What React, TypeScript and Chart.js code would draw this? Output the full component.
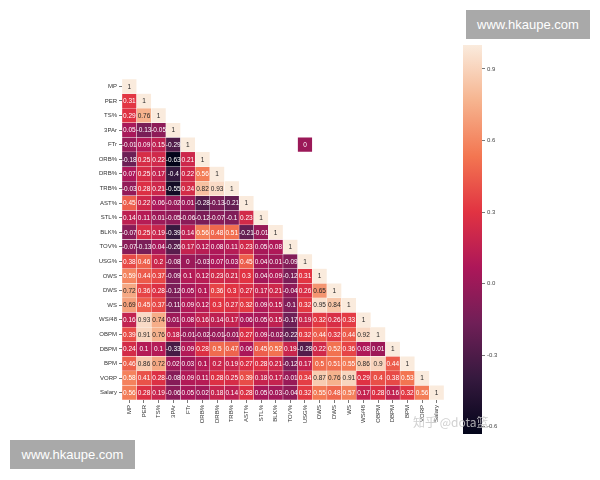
import React, { useEffect, useRef } from "react";
import { Chart, registerables } from "chart.js";
Chart.register(...registerables);

const variables = ["MP","PER","TS%","3PAr","FTr","ORB%","DRB%","TRB%","AST%","STL%","BLK%","TOV%","USG%","OWS","DWS","WS","WS/48","OBPM","DBPM","BPM","VORP","Salary"];

const corrMP = [1];
const corrPER = [0.31, 1];
const corrTS = [0.29, 0.76, 1];
const corr3PAr = [0.05, -0.13, -0.05, 1];
const corrFTr = [-0.01, 0.09, 0.15, -0.29, 1];
const corrORB = [-0.18, 0.25, 0.22, -0.63, 0.21, 1];
const corrDRB = [0.07, 0.25, 0.17, -0.4, 0.22, 0.56, 1];
const corrTRB = [-0.03, 0.28, 0.21, -0.55, 0.24, 0.82, 0.93, 1];
const corrAST = [0.45, 0.22, 0.06, -0.02, 0.01, -0.28, -0.13, -0.21, 1];
const corrSTL = [0.14, 0.11, 0.01, -0.05, -0.06, -0.12, -0.07, -0.1, 0.23, 1];
const corrBLK = [-0.07, 0.25, 0.19, -0.39, 0.14, 0.56, 0.48, 0.51, -0.21, -0.01, 1];
const corrTOV = [-0.07, -0.13, 0.04, -0.26, 0.17, 0.12, 0.08, 0.11, 0.23, 0.05, 0.08, 1];
const corrUSG = [0.38, 0.46, 0.2, -0.08, 0, -0.03, 0.07, 0.03, 0.45, 0.04, 0.01, -0.09, 1];
const corrOWS = [0.59, 0.44, 0.37, -0.09, 0.1, 0.12, 0.23, 0.21, 0.3, 0.04, 0.09, -0.12, 0.31, 1];
const corrDWS = [0.72, 0.36, 0.28, -0.12, 0.05, 0.1, 0.36, 0.3, 0.27, 0.17, 0.21, -0.04, 0.26, 0.65, 1];
const corrWS = [0.69, 0.45, 0.37, -0.11, 0.09, 0.12, 0.3, 0.27, 0.32, 0.09, 0.15, -0.1, 0.32, 0.95, 0.84, 1];
const corrWS48 = [0.16, 0.93, 0.74, 0.01, 0.08, 0.16, 0.14, 0.17, 0.06, 0.05, 0.15, -0.17, 0.19, 0.32, 0.26, 0.33, 1];
const corrOBPM = [0.39, 0.91, 0.76, 0.18, -0.01, -0.02, -0.01, -0.01, 0.27, 0.09, -0.02, -0.22, 0.32, 0.44, 0.32, 0.44, 0.92, 1];
const corrDBPM = [0.24, 0.1, 0.1, -0.33, 0.09, 0.28, 0.5, 0.47, 0.06, 0.45, 0.52, 0.19, -0.28, 0.22, 0.52, 0.36, 0.08, 0.01, 1];
const corrBPM = [0.46, 0.86, 0.72, 0.02, 0.03, 0.1, 0.2, 0.19, 0.27, 0.28, 0.21, -0.12, 0.17, 0.5, 0.51, 0.55, 0.86, 0.9, 0.44, 1];
const corrVORP = [0.58, 0.41, 0.28, -0.08, 0.09, 0.11, 0.28, 0.25, 0.39, 0.18, 0.17, -0.01, 0.34, 0.87, 0.76, 0.91, 0.29, 0.4, 0.38, 0.53, 1];
const corrSalary = [0.56, 0.28, 0.19, -0.06, 0.05, 0.02, 0.18, 0.14, 0.28, 0.05, 0.03, -0.04, 0.32, 0.55, 0.48, 0.57, 0.17, 0.28, 0.16, 0.32, 0.56, 1];

const corrRows = [corrMP, corrPER, corrTS, corr3PAr, corrFTr, corrORB, corrDRB, corrTRB, corrAST, corrSTL, corrBLK, corrTOV, corrUSG, corrOWS, corrDWS, corrWS, corrWS48, corrOBPM, corrDBPM, corrBPM, corrVORP, corrSalary];

// stray unmasked cell in the upper triangle (row FTr, column USG%)
const strayRow = 4;
const strayCol = 12;
const strayValue = 0;

const colorbarTicks = [0.9, 0.6, 0.3, 0.0, -0.3, -0.6];
const VMIN = -0.63;
const VMAX = 1;

const rocketStops: [number, string][] = [
  [0, "#03051a"], [0.143, "#35193e"], [0.286, "#701f57"], [0.429, "#ad1759"],
  [0.571, "#e13342"], [0.714, "#f37651"], [0.857, "#f6b48f"], [1, "#faebdd"],
];

function hexToRgb(h: string) {
  return [parseInt(h.slice(1, 3), 16), parseInt(h.slice(3, 5), 16), parseInt(h.slice(5, 7), 16)];
}
function rocketRgb(v: number) {
  let t = (v - VMIN) / (VMAX - VMIN);
  t = Math.max(0, Math.min(1, t));
  for (let i = 1; i < rocketStops.length; i++) {
    if (t <= rocketStops[i][0]) {
      const [t0, c0] = rocketStops[i - 1];
      const [t1, c1] = rocketStops[i];
      const f = (t - t0) / (t1 - t0);
      const a = hexToRgb(c0), b = hexToRgb(c1);
      return a.map((x, k) => Math.round(x + (b[k] - x) * f));
    }
  }
  return hexToRgb(rocketStops[rocketStops.length - 1][1]);
}
function rocket(v: number) {
  const [r, g, b] = rocketRgb(v);
  return `rgb(${r},${g},${b})`;
}
function textColorFor(v: number) {
  const lin = (c: number) => {
    const s = c / 255;
    return s <= 0.03928 ? s / 12.92 : Math.pow((s + 0.055) / 1.055, 2.4);
  };
  const [r, g, b] = rocketRgb(v);
  const lum = 0.2126 * lin(r) + 0.7152 * lin(g) + 0.0722 * lin(b);
  return lum > 0.408 ? "#262626" : "#ffffff";
}

function cellValue(i: number, j: number): number | null {
  if (j <= i) return corrRows[i][j];
  if (i === strayRow && j === strayCol) return strayValue;
  return null;
}

const FONT = '"Liberation Sans", Arial, sans-serif';

export default function App() {
  const heatRef = useRef<HTMLCanvasElement>(null);
  const cbRef = useRef<HTMLCanvasElement>(null);

  useEffect(() => {
    Chart.defaults.font.family = FONT;

    const datasets = variables.map((_, i) => ({
      label: variables[i],
      data: variables.map((__, j) => (cellValue(i, j) === null ? null : [i, i + 1])),
      backgroundColor: variables.map((__, j) => {
        const v = cellValue(i, j);
        return v === null ? "rgba(0,0,0,0)" : rocket(v);
      }),
      borderColor: "rgba(255,255,255,0.55)",
      borderWidth: 0.5,
      borderSkipped: false,
      barPercentage: 1,
      categoryPercentage: 1,
      grouped: false,
    }));

    const cellLabels = {
      id: "cellLabels",
      afterDatasetsDraw(chart: any) {
        const ctx = chart.ctx;
        const xs = chart.scales.x;
        const ys = chart.scales.y;
        ctx.save();
        ctx.font = `6.5px ${FONT}`;
        ctx.textAlign = "center";
        ctx.textBaseline = "middle";
        variables.forEach((_, i) => {
          variables.forEach((__, j) => {
            const v = cellValue(i, j);
            if (v === null) return;
            ctx.fillStyle = textColorFor(v);
            ctx.fillText(String(v), xs.getPixelForValue(j), ys.getPixelForValue(i + 0.5) + 0.5);
          });
        });
        ctx.restore();
      },
    };

    const heat = new Chart(heatRef.current!, {
      type: "bar",
      data: { labels: variables, datasets: datasets as any },
      options: {
        animation: false,
        responsive: false,
        maintainAspectRatio: false,
        layout: { padding: { left: 0, top: 79, right: 156, bottom: 0 } },
        plugins: { legend: { display: false }, tooltip: { enabled: false } },
        scales: {
          x: {
            type: "category",
            offset: true,
            afterFit: (s: any) => { s.height = 80; },
            grid: { offset: false, drawOnChartArea: false, tickLength: 3, color: "#555", lineWidth: 0.8 },
            border: { display: false },
            ticks: { autoSkip: false, maxRotation: 90, minRotation: 90, font: { size: 6 }, color: "#333", padding: 2 },
          },
          y: {
            type: "linear",
            min: 0,
            max: variables.length,
            reverse: true,
            afterFit: (s: any) => { s.width = 122; },
            afterBuildTicks: (s: any) => { s.ticks = variables.map((_, i) => ({ value: i + 0.5 })); },
            grid: { drawOnChartArea: false, tickLength: 3, color: "#555", lineWidth: 0.8 },
            border: { display: false },
            ticks: {
              font: { size: 6 },
              color: "#333",
              padding: 2,
              callback: (_v: any, idx: number) => variables[idx],
            },
          },
        },
      },
      plugins: [cellLabels],
    });

    const cb = new Chart(cbRef.current!, {
      type: "bar",
      data: {
        labels: ["r"],
        datasets: [{
          data: [[VMIN, VMAX]] as any,
          backgroundColor: (c: any) => {
            const chart = c.chart;
            if (!chart.chartArea) return "#ad1759";
            const y = chart.scales.y;
            const g = chart.ctx.createLinearGradient(0, y.getPixelForValue(VMIN), 0, y.getPixelForValue(VMAX));
            rocketStops.forEach(([t, col]) => g.addColorStop(t, col));
            return g;
          },
          borderWidth: 0,
          barPercentage: 1,
          categoryPercentage: 1,
        }],
      },
      options: {
        animation: false,
        responsive: false,
        maintainAspectRatio: false,
        layout: { padding: { left: 463, top: 45, bottom: 46, right: 88 } },
        plugins: { legend: { display: false }, tooltip: { enabled: false } },
        scales: {
          x: { display: false },
          y: {
            position: "right",
            min: VMIN,
            max: VMAX,
            afterFit: (s: any) => { s.width = 30; },
            afterBuildTicks: (s: any) => { s.ticks = colorbarTicks.map((v) => ({ value: v })); },
            grid: { drawOnChartArea: false, tickLength: 3, color: "#555", lineWidth: 0.8 },
            border: { display: false },
            ticks: {
              font: { size: 6 },
              color: "#444",
              padding: 2,
              callback: (v: any) => Number(v).toFixed(1),
            },
          },
        },
      },
    });

    return () => {
      heat.destroy();
      cb.destroy();
    };
  }, []);

  const boxStyle: React.CSSProperties = {
    position: "absolute",
    background: "#a9a9a9",
    color: "#fff",
    fontFamily: FONT,
    fontSize: 13,
    display: "flex",
    alignItems: "center",
    justifyContent: "center",
  };

  return (
    <div style={{ position: "fixed", left: 0, top: 0, width: 600, height: 480, background: "#fff", overflow: "hidden" }}>
      <canvas ref={heatRef} width={600} height={480} style={{ position: "absolute", left: 0, top: 0 }} />
      <canvas ref={cbRef} width={600} height={480} style={{ position: "absolute", left: 0, top: 0 }} />
      <div style={{ ...boxStyle, left: 466, top: 10, width: 124, height: 29 }}>www.hkaupe.com</div>
      <div style={{ ...boxStyle, left: 10, top: 440, width: 125, height: 29 }}>www.hkaupe.com</div>
      <div style={{ position: "absolute", left: 413, top: 413, fontSize: 12, color: "rgba(200,200,200,0.85)", fontFamily: '"Noto Sans CJK SC", sans-serif' }}>知乎 @dota篮</div>
    </div>
  );
}
